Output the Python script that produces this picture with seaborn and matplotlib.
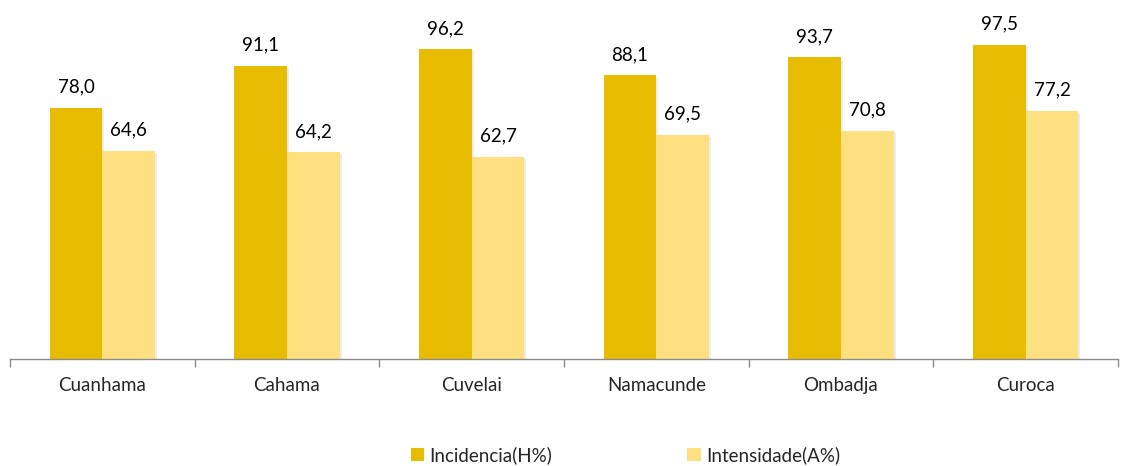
import pandas as pd
import numpy as np
import matplotlib.pyplot as plt
import matplotlib.patches as mpatches
import matplotlib.patheffects as pe
import seaborn as sns

### DATA ###
municipios = ['Cuanhama', 'Cahama', 'Cuvelai', 'Namacunde', 'Ombadja', 'Curoca']
incidencia = [78.0, 91.1, 96.2, 88.1, 93.7, 97.5]
intensidade = [64.6, 64.2, 62.7, 69.5, 70.8, 77.2]
series_names = ['Incidencia(H%)', 'Intensidade(A%)']
cores = ['#E8BC00', '#FFE080']

df = pd.DataFrame({
    'municipio': municipios * 2,
    'valor': incidencia + intensidade,
    'indicador': [series_names[0]] * len(municipios) + [series_names[1]] * len(municipios),
})

sns.set_style('white')
plt.rcParams['font.family'] = ['Lato', 'DejaVu Sans']

fig = plt.figure(figsize=(11.23, 4.66), dpi=100)
ax = fig.add_axes([10 / 1123, 107 / 466, 1108 / 1123, 354 / 466])

sns.barplot(data=df, x='municipio', y='valor', hue='indicador', palette=cores,
            width=0.57, gap=0, ax=ax, saturation=1, edgecolor='none', linewidth=0)

# faint shadow like the office chart
for p in ax.patches:
    p.set_path_effects([pe.SimplePatchShadow(offset=(1.5, -1.5), alpha=0.07, shadow_rgbFace='black'), pe.Normal()])

for cont in ax.containers:
    ax.bar_label(cont, labels=[f'{v:.1f}'.replace('.', ',') for v in cont.datavalues],
                 padding=9, fontsize=13.5, color='black')

ax.set_ylim(0, 110)
ax.set_xlim(-0.5, len(municipios) - 0.5)
ax.set_yticks([])
ax.set_xlabel('')
ax.set_ylabel('')

# tick marks between groups, labels at centers
ax.set_xticks(np.arange(-0.5, len(municipios), 1.0), minor=True)
ax.tick_params(axis='x', which='minor', bottom=True, length=6, color='#8c8c8c', width=1, direction='out')
ax.tick_params(axis='x', which='major', bottom=False, length=0, labelsize=13.5, pad=13)

for s in ['top', 'right', 'left']:
    ax.spines[s].set_visible(False)
ax.spines['bottom'].set_color('#8c8c8c')
ax.spines['bottom'].set_linewidth(1)

if ax.get_legend() is not None:
    ax.get_legend().remove()
handles = [mpatches.Patch(facecolor=c, edgecolor='none', label=n) for c, n in zip(cores, series_names)]
fig.legend(handles=handles, loc='center', bbox_to_anchor=(0.557, 1 - 455 / 466), ncol=2,
           frameon=False, fontsize=13.5, handlelength=0.7, handleheight=0.7,
           handletextpad=0.3, columnspacing=7.2)

fig.savefig('out.png', dpi=100)
